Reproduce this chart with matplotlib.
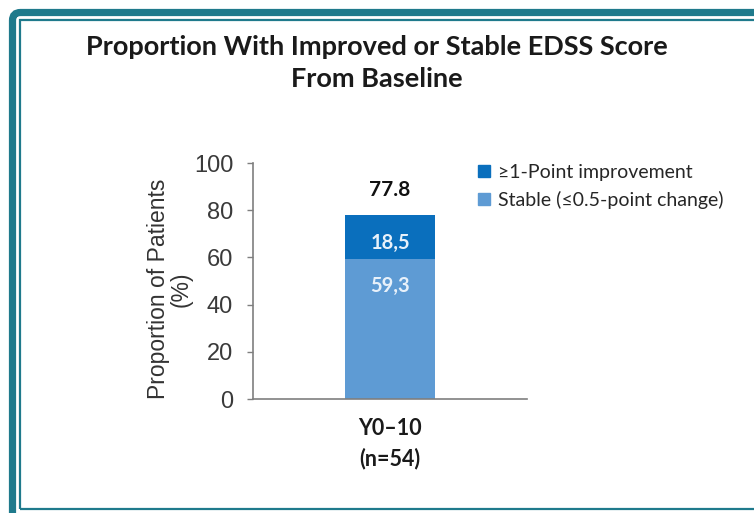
import matplotlib
matplotlib.use("Agg")
import matplotlib.pyplot as plt
from matplotlib.patches import FancyBboxPatch, Rectangle
from matplotlib import font_manager

groups = ["Y0\u201310\n(n=54)"]
stable = [59.3]
improved = [18.5]
totals = [77.8]
stable_labels = ["59,3"]
improved_labels = ["18,5"]
series_names = ["\u22651-Point improvement", "Stable (\u22640.5-point change)"]
y_ticks = [0, 20, 40, 60, 80, 100]

dark_blue = "#0a6fbd"
light_blue = "#5e9bd4"
teal = "#1f7a8c"
title_font = ["Lato", "DejaVu Sans"]

# narrow face for the tick numbers if it is around
names = {f.name for f in font_manager.fontManager.ttflist}
tick_font = "Liberation Sans Narrow" if "Liberation Sans Narrow" in names else "Liberation Sans"

W, H = 754, 513
fig = plt.figure(figsize=(W / 100, H / 100), dpi=100)
fig.patch.set_facecolor("white")

# frame: thick outer rule with a rounded corner, thin inner rule
outer = FancyBboxPatch((12.5, -40), W + 60, H - 12.5 + 40,
                       boxstyle="round,pad=0,rounding_size=8",
                       transform=None, fill=False, edgecolor=teal, linewidth=5.2)
fig.add_artist(outer)
inner = Rectangle((19.5, H - 509), W + 40, 509 - 19.5, transform=None,
                  fill=False, edgecolor=teal, linewidth=1.6)
fig.add_artist(inner)

fig.text(0.5, 1 - 47 / H, "Proportion With Improved or Stable EDSS Score",
         ha="center", va="center", fontsize=19.5, fontweight="bold",
         family=title_font, color="#1a1a1a")
fig.text(0.5, 1 - 79 / H, "From Baseline", ha="center", va="center",
         fontsize=19.5, fontweight="bold", family=title_font, color="#1a1a1a")

ax = fig.add_axes([253 / W, (H - 399) / H, 274 / W, 236 / H])
x = list(range(len(groups)))
ax.bar(x, stable, width=0.33, color=light_blue, label=series_names[1])
ax.bar(x, improved, width=0.33, bottom=stable, color=dark_blue, label=series_names[0])

for i in x:
    ax.text(i, totals[i] + 10.8, f"{totals[i]}", ha="center", va="center",
            fontsize=15, fontweight="bold", family=title_font, color="#111111")
    ax.text(i, stable[i] + improved[i] / 2 - 2.5, improved_labels[i], ha="center", va="center",
            fontsize=14.5, fontweight="bold", family=title_font, color="#e8f1fa")
    ax.text(i, stable[i] - 11.5, stable_labels[i], ha="center", va="center",
            fontsize=14.5, fontweight="bold", family=title_font, color="#e8f1fa")

ax.set_xlim(-0.5, 0.5)
ax.set_ylim(0, 100)
ax.set_yticks(y_ticks)
ax.set_yticklabels([str(t) for t in y_ticks], fontsize=17,
                   family=tick_font, color="#3a3a3a")
ax.set_xticks(x)
ax.set_xticklabels(groups, fontsize=15.5, fontweight="bold", family=title_font,
                   color="#1a1a1a", linespacing=1.45)
ax.tick_params(axis="x", length=0, pad=14)
ax.tick_params(axis="y", length=4.3, width=1, color="#7f7f7f", pad=10)
for side in ["top", "right"]:
    ax.spines[side].set_visible(False)
for side in ["left", "bottom"]:
    ax.spines[side].set_color("#7f7f7f")
    ax.spines[side].set_linewidth(1.2)
ax.set_ylabel("Proportion of Patients\n(%)", fontsize=16.5, family="Liberation Sans",
              color="#333333", linespacing=1.0)
ax.yaxis.set_label_coords(-0.22, 0.466)

handles = [Rectangle((0, 0), 1, 1, color=dark_blue), Rectangle((0, 0), 1, 1, color=light_blue)]
leg = fig.legend(handles, series_names, loc="upper left",
                 bbox_to_anchor=(478 / W, 1 - 164 / H), frameon=False,
                 prop={"family": title_font, "size": 14},
                 handlelength=0.6, handleheight=0.6, handletextpad=0.45,
                 labelspacing=0.5, borderpad=0, borderaxespad=0)
for t in leg.get_texts():
    t.set_color("#262626")

fig.savefig("out.png", dpi=100, facecolor="white")
